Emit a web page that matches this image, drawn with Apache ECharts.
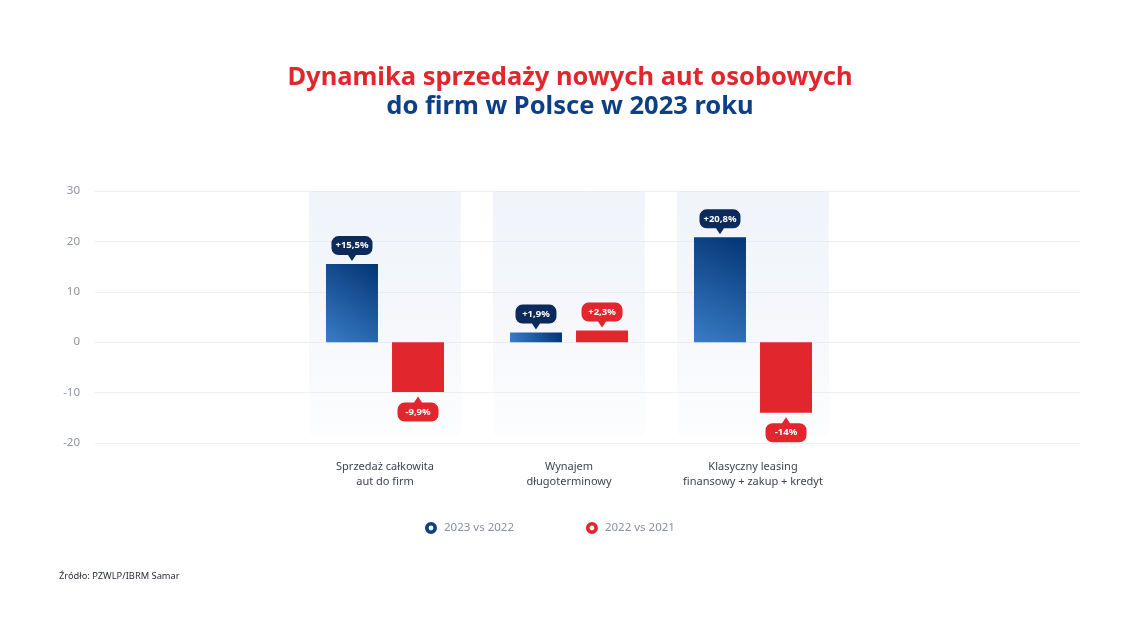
<!DOCTYPE html>
<html>
<head>
<meta charset="utf-8">
<script src="https://cdn.jsdelivr.net/npm/echarts@6/dist/echarts.min.js"></script>
<style>
  html, body { margin: 0; padding: 0; background: #fff; }
  #chart { width: 1140px; height: 642px; }
</style>
</head>
<body>
<div id="chart"></div>
<script>
const categories = ['Sprzedaż całkowita\naut do firm', 'Wynajem\ndługoterminowy', 'Klasyczny leasing\nfinansowy + zakup + kredyt']
const values2023 = [15.5, 1.9, 20.8]
const values2022 = [-9.9, 2.3, -14]
const labels2023 = ['+15,5%', '+1,9%', '+20,8%']
const labels2022 = ['-9,9%', '+2,3%', '-14%']
const yTicks = { min: -20, max: 30, interval: 10 }
const bandTop = [30, 30, 30]
const bandBottom = [-18.5, -18.5, -18.5]

const NAVY = '#0c2a5c'
const RED = '#e1262d'
const FONT = '"Noto Sans", sans-serif'

const bubbleDown = 'path://M7,0 H34 A7,7 0 0 1 41,7 V12 A7,7 0 0 1 34,19 H24.5 L20.5,25 L16.5,19 H7 A7,7 0 0 1 0,12 V7 A7,7 0 0 1 7,0 Z'
const bubbleUp = 'path://M16.5,6 L20.5,0 L24.5,6 H34 A7,7 0 0 1 41,13 V18 A7,7 0 0 1 34,25 H7 A7,7 0 0 1 0,18 V13 A7,7 0 0 1 7,6 Z'
const ringIcon = 'path://M6,0 A6,6 0 1 1 5.99,0 Z M6,3.6 A2.4,2.4 0 1 0 6.01,3.6 Z'

function bubbles(values, labels, color) {
  return values.map((v, i) => ({
    coord: [i, v],
    symbol: v >= 0 ? bubbleDown : bubbleUp,
    symbolSize: [41, 25],
    symbolOffset: [0, v >= 0 ? -15.5 : 17],
    itemStyle: { color },
    label: {
      formatter: labels[i],
      offset: [0, v >= 0 ? -3 : 3]
    }
  }))
}

const chart = echarts.init(document.getElementById('chart'))

const barGrid = { left: 293, right: 295, top: 191, height: 252 }
const bandColor = a => 'rgba(226,232,244,' + a + ')'

chart.setOption({
  backgroundColor: '#fff',
  animation: false,
  title: {
    text: '{a|Dynamika sprzedaży nowych aut osobowych}\n{b|do firm w Polsce w 2023 roku}',
    left: 'center',
    top: 58,
    textStyle: {
      rich: {
        a: { color: RED, fontSize: 25.5, fontWeight: 'bold', fontFamily: FONT, lineHeight: 29 },
        b: { color: '#0d3f86', fontSize: 25.5, fontWeight: 'bold', fontFamily: FONT, lineHeight: 29 }
      }
    }
  },
  legend: {
    top: 517,
    left: 420,
    itemGap: 72,
    itemWidth: 12,
    itemHeight: 12,
    data: [
      { name: '2023 vs 2022', icon: ringIcon, itemStyle: { color: '#0d3f86' } },
      { name: '2022 vs 2021', icon: ringIcon, itemStyle: { color: RED } }
    ],
    textStyle: { color: '#8a909c', fontSize: 11.5, fontFamily: FONT, padding: [0, 0, 0, 2] }
  },
  graphic: [{
    type: 'text',
    left: 59,
    top: 572,
    style: { text: 'Źródło: PZWLP/IBRM Samar', fill: '#2b2f38', font: '9.3px "Noto Sans", sans-serif' }
  }],
  grid: [
    { left: 95, right: 60, top: 191, height: 252 },
    barGrid,
    barGrid
  ],
  xAxis: [
    { gridIndex: 0, type: 'category', data: [''], show: false },
    {
      gridIndex: 1, type: 'category', data: categories,
      axisLine: { show: false }, axisTick: { show: false },
      axisLabel: { interval: 0, color: '#3f4450', fontSize: 11, fontFamily: FONT, lineHeight: 15, margin: 16 }
    },
    { gridIndex: 2, type: 'category', data: categories, show: false }
  ],
  yAxis: [
    {
      gridIndex: 0, type: 'value', ...yTicks,
      axisLine: { show: false }, axisTick: { show: false },
      axisLabel: { color: '#8f95a3', fontSize: 11.5, fontFamily: FONT, margin: 15 },
      splitLine: { lineStyle: { color: '#eceef2', width: 1 } }
    },
    { gridIndex: 1, type: 'value', ...yTicks, show: false, splitLine: { show: false } },
    { gridIndex: 2, type: 'value', ...yTicks, show: false, splitLine: { show: false } }
  ],
  series: [
    {
      type: 'bar', xAxisIndex: 2, yAxisIndex: 2, stack: 'band', barWidth: 152, z: 1,
      silent: true, data: bandTop,
      itemStyle: {
        color: new echarts.graphic.LinearGradient(0, 0, 0, 1, [
          { offset: 0, color: bandColor(0.5) },
          { offset: 1, color: bandColor(0.3) }
        ])
      }
    },
    {
      type: 'bar', xAxisIndex: 2, yAxisIndex: 2, stack: 'band', barWidth: 152, z: 1,
      silent: true, data: bandBottom,
      itemStyle: {
        color: new echarts.graphic.LinearGradient(0, 0, 0, 1, [
          { offset: 0, color: bandColor(0.3) },
          { offset: 1, color: bandColor(0.08) }
        ])
      }
    },
    {
      name: '2023 vs 2022', type: 'bar', xAxisIndex: 1, yAxisIndex: 1,
      barWidth: 52, barGap: '27%', z: 3, data: values2023,
      itemStyle: {
        color: new echarts.graphic.LinearGradient(1, 0, 0, 1, [
          { offset: 0, color: '#023574' },
          { offset: 1, color: '#3a7cc6' }
        ])
      },
      markPoint: {
        z: 5,
        label: { show: true, position: 'inside', color: '#fff', fontSize: 9.5, fontWeight: 'bold', fontFamily: FONT },
        data: bubbles(values2023, labels2023, NAVY)
      }
    },
    {
      name: '2022 vs 2021', type: 'bar', xAxisIndex: 1, yAxisIndex: 1,
      barWidth: 52, barGap: '27%', z: 3, data: values2022,
      itemStyle: { color: RED },
      markPoint: {
        z: 5,
        label: { show: true, position: 'inside', color: '#fff', fontSize: 9.5, fontWeight: 'bold', fontFamily: FONT },
        data: bubbles(values2022, labels2022, RED)
      }
    }
  ]
})
</script>
</body>
</html>
